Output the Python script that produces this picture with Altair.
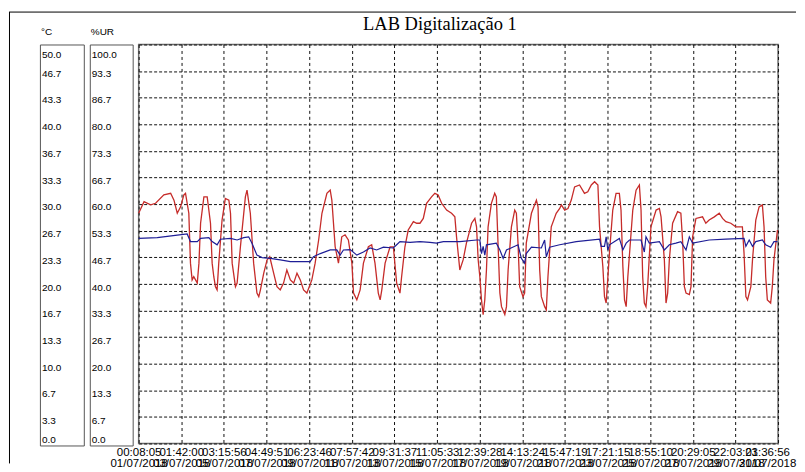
import json
import altair as alt
import pandas as pd

TITLE = "LAB Digitalização 1"
UNIT_T = "°C"
UNIT_H = "%UR"

time_labels = ["00:08:05", "01:42:00", "03:15:56", "04:49:51", "06:23:46", "07:57:42",
               "09:31:37", "11:05:33", "12:39:28", "14:13:24", "15:47:19", "17:21:15",
               "18:55:10", "20:29:05", "22:03:01", "23:36:56"]
date_labels = ["01/07/2018", "03/07/2018", "05/07/2018", "07/07/2018", "09/07/2018",
               "11/07/2018", "13/07/2018", "15/07/2018", "17/07/2018", "19/07/2018",
               "21/07/2018", "23/07/2018", "25/07/2018", "27/07/2018", "29/07/2018",
               "31/07/2018"]
celsius_labels = ["0.0", "3.3", "6.7", "10.0", "13.3", "16.7", "20.0", "23.3", "26.7",
                  "30.0", "33.3", "36.7", "40.0", "43.3", "46.7", "50.0"]
ur_labels = ["0.0", "6.7", "13.3", "20.0", "26.7", "33.3", "40.0", "46.7", "53.3",
             "60.0", "66.7", "73.3", "80.0", "86.7", "93.3", "100.0"]

# humidity (%UR), days since 01/07/2018 00:08:05
rh_day = [0.0, 0.26, 0.58, 0.82, 1.22, 1.55, 1.71, 1.87, 2.03, 2.19, 2.27, 2.43, 2.51, 2.59, 2.67,
          2.84, 2.92, 3.00, 3.16, 3.32, 3.48, 3.56, 3.64, 3.72, 3.80, 3.88, 4.04, 4.20, 4.37, 4.45,
          4.53, 4.69, 4.77, 4.93, 5.17, 5.25, 5.41, 5.57, 5.73, 5.82, 5.90, 6.06, 6.22, 6.35, 6.54,
          6.70, 6.86, 7.02, 7.18, 7.35, 7.51, 7.67, 7.83, 7.99, 8.15, 8.39, 8.55, 8.72, 8.88, 9.12,
          9.28, 9.36, 9.52, 9.68, 9.84, 10.00, 10.16, 10.33, 10.41, 10.57, 10.73, 10.89, 11.13,
          11.29, 11.45, 11.61, 11.70, 11.78, 11.94, 12.18, 12.34, 12.50, 12.66, 12.74, 12.90, 13.06,
          13.31, 13.47, 13.63, 13.79, 13.95, 14.19, 14.35, 14.51, 14.68, 14.92, 15.16, 15.32, 15.40,
          15.56,
          15.72, 15.88, 16.13, 16.29, 16.37, 16.45, 16.53, 16.61, 16.69, 16.77, 16.85, 16.93, 17.09,
          17.25, 17.33, 17.41, 17.50, 17.58, 17.74, 17.82, 17.90, 18.06, 18.22, 18.30, 18.38, 18.46,
          18.62, 18.70, 18.78, 19.03, 19.27, 19.35, 19.43, 19.51, 19.67, 19.75, 19.83, 19.99, 20.23,
          20.40, 20.48, 20.64, 20.80, 20.96, 21.12, 21.36, 21.60, 21.76, 21.93, 22.09, 22.25, 22.33,
          22.49, 22.57, 22.65, 22.81, 22.97, 23.13, 23.29, 23.37, 23.46, 23.54, 23.62, 23.70, 23.94,
          24.10, 24.26, 24.34, 24.42, 24.50, 24.58, 24.66, 24.82, 25.07, 25.23, 25.31, 25.47, 25.55,
          25.63, 25.71, 25.87, 26.11, 26.27, 26.36, 26.44, 26.52, 26.68, 26.76, 26.84, 27.00, 27.32,
          27.48, 27.64, 27.89, 28.13, 28.29, 28.45, 28.69, 28.93, 29.25, 29.33, 29.42, 29.50, 29.66,
          29.74, 29.90, 30.06, 30.22, 30.30, 30.38, 30.46, 30.62, 30.70, 30.78, 30.95]
rh_pct = [57.7, 60.6, 59.8, 60.2, 62.3, 62.7, 61.0, 57.7, 59.3, 62.3, 62.7, 57.7, 45.2, 41.0, 41.8,
          40.2, 45.2, 55.2, 61.8, 61.8, 55.2, 45.2, 41.8, 39.3, 38.5, 45.2, 56.0, 61.4, 61.0, 57.7,
          45.2, 39.3, 40.2, 49.3, 61.8, 63.5, 57.7, 45.2, 37.7, 36.8, 38.5, 42.7, 46.0, 46.8, 42.7,
          39.3, 38.5, 40.2, 43.5, 41.0, 40.2, 42.7, 41.0, 38.5, 37.7, 41.0, 45.2, 51.0, 57.7, 62.7,
          63.5, 61.0, 49.3, 45.2, 51.8, 52.3, 51.0, 45.2, 37.7, 36.0, 38.5, 45.2, 49.3,
          49.8, 45.2, 37.7, 36.0, 38.5, 45.2, 49.3, 49.3, 40.2, 37.7, 41.8, 49.3, 53.5,
          55.6, 55.2, 55.2, 56.4, 60.2, 61.8, 62.7, 62.3, 60.2, 58.5, 57.7, 56.8, 51.8,
          43.5,
          46.0, 50.2, 55.2, 56.4, 54.3, 46.0, 41.8, 36.0, 32.3, 36.0, 43.5, 54.3, 60.2,
          62.7, 61.8, 50.2, 37.7, 34.3, 32.3, 34.3, 43.5, 54.3, 58.5, 57.7, 50.2, 39.3,
          36.8, 37.7, 50.2, 57.7, 61.0, 59.3, 43.5, 36.8, 34.3, 33.5, 41.8, 54.3, 57.7,
          58.9, 59.8, 58.5, 58.9, 61.0, 64.3, 64.8, 62.7, 63.1, 64.8, 65.6, 64.8, 54.3,
          44.3, 36.8, 35.2, 47.7, 58.5, 62.7, 62.7, 58.5, 44.3, 36.0, 34.3, 41.8, 58.5,
          63.5, 64.8, 58.5, 41.8, 35.2, 34.3, 39.3, 54.3, 58.5, 58.9, 56.8, 46.0, 35.2,
          37.7, 46.0, 55.2, 58.1, 57.7, 50.2, 39.3, 37.7, 37.3, 39.3, 51.8, 56.4, 56.8,
          55.2, 56.0, 56.8, 57.7, 56.4, 55.6, 55.2, 54.3, 54.3, 47.7, 36.8, 36.0, 39.3,
          46.0, 56.0, 59.3, 59.8, 54.3, 41.8, 36.0, 35.2, 39.3, 46.0, 53.5]

# temperature (°C)
t_day = [0.0, 0.90, 1.87, 2.35, 2.51, 2.84, 3.00, 3.40, 3.56, 3.80, 3.96, 4.45, 4.77, 5.09, 5.33,
         5.49, 5.73, 5.98, 6.38, 6.86, 7.35, 7.99, 8.31, 8.47, 8.80, 9.28, 9.60, 9.76, 9.92, 10.25,
         10.57, 10.89, 11.21, 11.53, 11.86, 12.34, 12.50, 12.66, 13.15, 13.63, 14.11, 14.43, 14.76,
         15.56, 16.37, 16.53, 16.61, 16.69, 16.77, 16.85, 17.33, 17.50, 17.66, 17.82, 18.38, 18.54,
         18.70, 18.78, 19.03, 19.51, 19.67, 19.75, 19.91, 20.40, 21.20, 22.33, 22.41, 22.57, 22.65,
         22.73, 22.81, 23.29, 23.46, 23.62, 23.78, 24.34, 24.50, 24.58, 24.74, 25.23, 25.47, 25.71,
         26.03, 26.27, 26.52, 26.68, 26.84, 27.64, 28.45, 29.33, 29.42, 29.58, 29.74, 29.90, 30.22,
         30.38, 30.62, 30.78, 30.95]
t_c = [25.7, 25.8, 26.1, 26.25, 25.3, 25.3, 25.7, 25.8, 25.3, 24.9, 25.6, 25.7, 25.5, 25.8, 25.9,
       25.1, 23.6, 23.3, 23.2, 23.0, 22.8, 22.8, 22.8, 23.4, 23.8, 24.25, 24.25, 23.6, 24.25, 24.3,
       23.6, 24.0, 24.5, 24.25, 24.6, 24.5, 24.9, 25.3, 25.2, 25.3, 25.2, 25.1, 25.3,
       25.3, 25.5, 25.5, 23.8, 24.7, 23.6, 24.9, 25.1, 24.25, 23.2, 24.25, 24.9, 23.2,
       22.6, 23.8, 24.6, 24.5, 25.5, 23.4, 24.6, 24.9, 25.3, 25.6, 24.7, 24.7, 25.9,
       24.25, 24.9, 25.7, 24.25, 25.1, 25.5, 25.5, 24.0, 25.9, 25.1, 25.3, 24.25, 24.9,
       25.1, 25.3, 24.25, 25.9, 25.1, 25.5, 25.6, 25.7, 24.7, 25.5, 24.7, 25.3, 25.5,
       24.9, 24.6, 25.3, 25.3]

SPAN = 30 + ((23 * 3600 + 36 * 60 + 56) - (8 * 60 + 5)) / 86400.0  # days
STEP = SPAN / 15
x_ticks = [round(i * STEP, 6) for i in range(16)]
X_MAX = x_ticks[-1]

LABEL_FONT = "Liberation Sans"

rh_df = pd.DataFrame({"day": rh_day, "rh": rh_pct})
t_df = pd.DataFrame({"day": t_day, "t": t_c})

x_expr = ("[" + json.dumps(time_labels) + f"[round(datum.value/{STEP})], "
          + json.dumps(date_labels) + f"[round(datum.value/{STEP})]]")

x_scale = alt.Scale(domain=[0, X_MAX], nice=False, zero=False)
x_axis = alt.Axis(values=x_ticks, labelExpr=x_expr, grid=True, gridDash=[3, 3],
                  gridColor="#111111", gridWidth=1, ticks=False, tickSize=0, domain=False,
                  labelFont=LABEL_FONT, labelFontSize=11.5, labelColor="black",
                  labelPadding=3, labelLineHeight=11, labelAlign="center",
                  labelOffset={"condition": {"test": f"datum.value > {X_MAX - STEP / 2}",
                                             "value": -11}, "value": 0},
                  labelOverlap=False, labelFlush=False, labelBound=False, title=None)

h_ticks = [round(i * 100 / 15, 6) for i in range(16)]
red = alt.Chart(rh_df).mark_line(color="#c62c2a", strokeWidth=1.3).encode(
    x=alt.X("day:Q", scale=x_scale, axis=x_axis),
    y=alt.Y("rh:Q", scale=alt.Scale(domain=[0, h_ticks[-1]], nice=False, zero=False),
            axis=alt.Axis(values=h_ticks, grid=True, gridDash=[3, 2], gridColor="#111111",
                          gridWidth=1, labels=False, ticks=False, domain=False, title=None)),
)
blue = alt.Chart(t_df).mark_line(color="#1e1e96", strokeWidth=1.2).encode(
    x=alt.X("day:Q", scale=x_scale, axis=x_axis),
    y=alt.Y("t:Q", scale=alt.Scale(domain=[0, 50], nice=False, zero=False), axis=None),
)

main = alt.layer(red, blue).resolve_scale(y="independent").properties(
    width=641, height=400,
    title=alt.TitleParams(TITLE, font="Liberation Serif", fontSize=18.5, fontWeight="normal",
                          color="black", anchor="middle", dx=-18.5, offset=-4,
                          baseline="alphabetic"),
    view=alt.ViewBackground(stroke="#6d6d6d", strokeWidth=1.5),
)


def box_panel(unit, labels, maxv, w):
    ticks = [round(i * maxv / 15, 6) for i in range(16)]
    expr = json.dumps(labels) + f"[round(datum.value/{maxv / 15})]"
    df = pd.DataFrame({"v": [maxv / 2]})
    return alt.Chart(df).mark_point(opacity=0).encode(
        y=alt.Y("v:Q", scale=alt.Scale(domain=[0, ticks[-1]], nice=False, zero=False),
                axis=alt.Axis(values=ticks, labelExpr=expr, orient="left", labelAlign="left",
                              labelPadding=-1.5, ticks=False, tickSize=0, domain=False,
                              grid=False, labelFlush=True, labelFlushOffset=-3, labelOffset=2,
                              labelFont=LABEL_FONT, labelFontSize=10, labelColor="black",
                              labelOverlap=False, title=None))
    ).properties(
        width=w, height=402,
        title=alt.TitleParams(unit, anchor="start", frame="group", offset=-0.5, dx=1,
                              baseline="alphabetic", font=LABEL_FONT, fontSize=10,
                              fontWeight="normal", color="black"),
        view=alt.ViewBackground(stroke="#555555", strokeWidth=1),
    )


c_panel = box_panel(UNIT_T, celsius_labels, 50, 44)
h_panel = box_panel(UNIT_H, ur_labels, 100, 43)

frame_df = pd.DataFrame({"k": [0]})
top_line = alt.Chart(frame_df).mark_rule(color="black", strokeWidth=1).encode(
    x=alt.value(0), x2=alt.value(789), y=alt.value(-32.5))
left_line = alt.Chart(frame_df).mark_rule(color="black", strokeWidth=1).encode(
    x=alt.value(0.5), y=alt.value(-32.5), y2=alt.value(420))
frame = alt.layer(top_line, left_line).properties(
    width=1, height=400, view=alt.ViewBackground(strokeWidth=0))

inner = alt.hconcat(c_panel, h_panel, main, spacing=6, bounds="flush")
chart = alt.hconcat(frame, inner, spacing=30, bounds="flush").properties(
    padding={"left": 0, "top": 3, "right": 0, "bottom": 0},
    background="white",
)

chart.save("out.html", embed_options={"renderer": "svg", "actions": False})
